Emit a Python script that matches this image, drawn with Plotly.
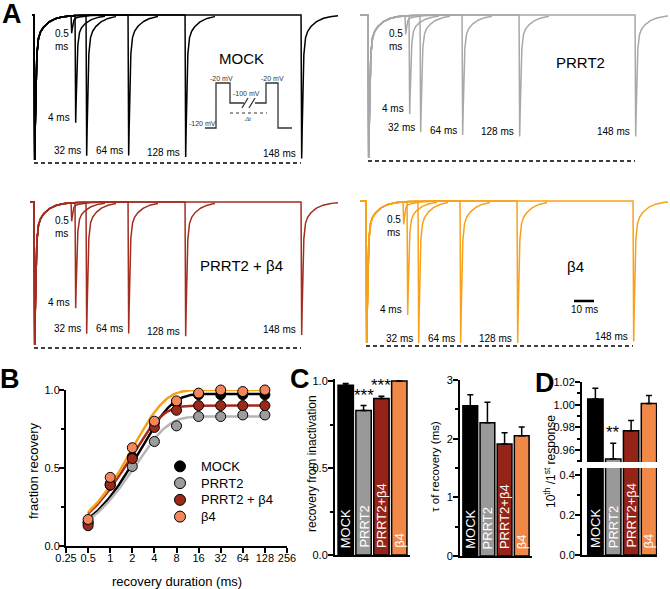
import numpy as np
import plotly.graph_objects as go

W, H = 670, 589
FONT = "Liberation Sans, Arial, sans-serif"

# ---------------- data ----------------
conditions = ["MOCK", "PRRT2", "PRRT2+β4", "β4"]
legend_names = ["MOCK", "PRRT2", "PRRT2 + β4", "β4"]

# Panel A: test-pulse currents (fraction of first response), display position (ms after first pulse)
test_labels = ["0.5<br>ms", "4 ms", "32 ms", "64 ms", "128 ms", "148 ms"]
test_times_ms = [18.5, 20.5, 26.0, 47.0, 75.5, 133.5]
peak_mock = [0.12, 0.74, 0.97, 0.97, 0.98, 0.99]
peak_prrt2 = [0.13, 0.69, 0.82, 0.84, 0.85, 0.85]
peak_prrt2_b4 = [0.13, 0.74, 0.92, 0.92, 0.94, 0.93]
peak_b4 = [0.16, 0.80, 1.00, 1.00, 1.00, 0.99]

# Panel B: fraction recovery
durations = [0.5, 1, 2, 4, 8, 16, 32, 64, 128]
frac_mock = [0.15, 0.39, 0.57, 0.79, 0.92, 0.97, 0.97, 0.97, 0.97]
frac_prrt2 = [0.15, 0.40, 0.51, 0.67, 0.77, 0.83, 0.83, 0.84, 0.84]
frac_prrt2_b4 = [0.13, 0.39, 0.56, 0.76, 0.87, 0.90, 0.90, 0.90, 0.90]
frac_b4 = [0.17, 0.44, 0.63, 0.80, 0.93, 0.98, 1.00, 0.99, 1.00]
x_tick_vals = [0.25, 0.5, 1, 2, 4, 8, 16, 32, 64, 128, 256]
x_tick_text = ["0.25", "0.5", "1", "2", "4", "8", "16", "32", "64", "128", "256"]

# Panel C
recovery_mean = [0.975, 0.83, 0.90, 1.0]
recovery_sem = [0.01, 0.029, 0.012, 0.0]
tau_mean = [2.56, 2.27, 1.91, 2.05]
tau_sem = [0.19, 0.35, 0.19, 0.15]

# Panel D
ratio_mean = [1.005, 0.952, 0.977, 1.001]
ratio_sem = [0.0095, 0.014, 0.009, 0.007]

# significance marks
stars_C = {"PRRT2": "***", "PRRT2+β4": "***"}
stars_D = {"PRRT2": "**"}

trace_colors = ["#000000", "#a8a8a8", "#a32d1e", "#f8a11b"]
curve_colors = ["#000000", "#b5b5b5", "#a52a1e", "#f7a11a"]
point_colors = ["#000000", "#9d9d9d", "#9b2a1b", "#f4875a"]
bar_colors = ["#000000", "#999999", "#952418", "#f08847"]


def PX(x):
    return x / W


def PY(y):
    return 1 - y / H


fig = go.Figure()
annotations = []
shapes = []
layout_axes = {}


def ann(**kw):
    d = dict(showarrow=False, xanchor="center", yanchor="middle")
    d.update(kw)
    annotations.append(d)


def axname(k, letter):
    return f"{letter}axis" if k == 1 else f"{letter}axis{k}"


def ref(k, letter):
    return letter if k == 1 else f"{letter}{k}"


# ---------------- Panel A traces ----------------
def na_shape(tau):
    tau = np.clip(tau, 0, None)
    act = (1 - np.exp(-tau / 0.12)) ** 3
    inact = 0.9 * np.exp(-tau / 0.5) + 0.1 * np.exp(-tau / 5.0)
    return act * inact


WAVE_PEAK = na_shape(np.linspace(0, 5, 20001)).max()


def na_wave(t, t0, amp):
    w = na_shape(t - t0) * (t >= t0)
    return -amp * w / WAVE_PEAK


panelsA = [
    dict(name="MOCK", peaks=peak_mock, sx=32, fx=34, ex=338, by=15, fy=160, lab=(241, 59)),
    dict(name="PRRT2", peaks=peak_prrt2, sx=360, fx=368, ex=668, by=15, fy=158, lab=(580, 62)),
    dict(name="PRRT2 + β4", peaks=peak_prrt2_b4, sx=30, fx=34, ex=338, by=202, fy=345, lab=(241, 265)),
    dict(name="β4", peaks=peak_b4, sx=360, fx=366, ex=668, by=201, fy=343, lab=(575, 267)),
]

for i, p in enumerate(panelsA):
    k = i + 1
    s = p["fy"] - p["by"]
    layout_axes[axname(k, "x")] = dict(
        domain=[PX(p["sx"] - 2), PX(p["ex"] + 2)],
        range=[(p["sx"] - 2 - p["fx"]) / 2, (p["ex"] + 2 - p["fx"]) / 2],
        visible=False, anchor=ref(k, "y"))
    layout_axes[axname(k, "y")] = dict(
        domain=[PY(p["fy"] + 10), PY(p["by"] - 10)],
        range=[-(p["fy"] + 10 - p["by"]) / s, 10 / s],
        visible=False, anchor=ref(k, "x"))
    t_start = (p["sx"] - p["fx"]) / 2
    t_end = (p["ex"] - p["fx"]) / 2
    for j, (tj, amp) in enumerate(zip(test_times_ms, p["peaks"])):
        end_j = t_end if j == len(test_times_ms) - 1 else tj + 15
        t = np.unique(np.concatenate([
            np.arange(t_start, end_j, 0.25), np.arange(0, 4, 0.02),
            np.arange(tj, tj + 4, 0.02), [end_j]]))
        t = t[(t >= t_start) & (t <= end_j)]
        cur = na_wave(t, 0.0, 1.0) + na_wave(t, tj, amp)
        fig.add_trace(go.Scatter(x=t, y=cur, mode="lines",
                                 line=dict(color=trace_colors[i], width=1.5),
                                 xaxis=ref(k, "x"), yaxis=ref(k, "y"),
                                 hoverinfo="skip", showlegend=False))
        # label
        spike_x = p["fx"] + 2 * tj
        bottom = p["by"] + amp * s
        if j == 0:
            ann(x=PX(spike_x - 18), y=PY(p["by"] + 25), xref="paper", yref="paper",
                text=test_labels[j], xanchor="left", align="left", font=dict(size=10))
        else:
            ann(x=PX(spike_x - 3), y=PY(bottom - 5), xref="paper", yref="paper",
                text=test_labels[j], xanchor="right", font=dict(size=10))
    # dashed reference line at first-pulse peak
    shapes.append(dict(type="line", xref=ref(k, "x"), yref=ref(k, "y"),
                       x0=0, x1=test_times_ms[-1], y0=-1 - 3 / s, y1=-1 - 3 / s,
                       line=dict(color="black", width=1.5, dash="4px,3px")))
    ann(x=PX(p["lab"][0]), y=PY(p["lab"][1]), xref="paper", yref="paper",
        text=p["name"], font=dict(size=15))
    if p["name"] == "β4":
        # 10 ms scale bar
        shapes.append(dict(type="line", xref=ref(k, "x"), yref=ref(k, "y"),
                           x0=104, x1=114, y0=-100 / s, y1=-100 / s,
                           line=dict(color="black", width=2.5)))
        ann(x=109, y=-100 / s, xref=ref(k, "x"), yref=ref(k, "y"), yshift=-8,
            text="10 ms", font=dict(size=10))

# ---------------- voltage protocol inset (schematic) ----------------
k = 5
layout_axes[axname(k, "x")] = dict(domain=[PX(200), PX(295)], range=[0, 95], visible=False, anchor="y5")
layout_axes[axname(k, "y")] = dict(domain=[PY(133), PY(70)], range=[-5, 58], visible=False, anchor="x5")
proto_seg1_x = [5, 16, 16, 30, 30, 44]
proto_seg1_y = [0, 0, 45, 45, 25, 25]
proto_seg2_x = [55, 66, 66, 78, 78, 92]
proto_seg2_y = [25, 25, 45, 45, 0, 0]
for xs, ys in [(proto_seg1_x, proto_seg1_y), (proto_seg2_x, proto_seg2_y), ([42, 48], [20, 30]), ([49, 55], [20, 30])]:
    fig.add_trace(go.Scatter(x=xs, y=ys, mode="lines", line=dict(color="#333333", width=1.3),
                             xaxis="x5", yaxis="y5", hoverinfo="skip", showlegend=False))
fig.add_trace(go.Scatter(x=[30, 67], y=[15, 15], mode="lines", line=dict(color="#333333", width=1, dash="dot"),
                         xaxis="x5", yaxis="y5", hoverinfo="skip", showlegend=False))
for tx, ty, tt in [(3, 5, "-120 mV"), (22, 50, "-20 mV"), (72, 50, "-20 mV"), (47, 35, "-100 mV"), (48, 9, "<i>Δt</i>")]:
    ann(x=tx, y=ty, xref="x5", yref="y5", text=tt,
        font=dict(size=7, color="#333333", family="Liberation Serif, serif" if "Δ" in tt else FONT))


# ---------------- common axis style ----------------
def axstyle(**kw):
    base = dict(showline=True, linewidth=2, linecolor="black", ticks="outside", ticklen=5, tickwidth=2,
                tickcolor="black", tickfont=dict(size=11, color="black", family=FONT),
                showgrid=False, zeroline=False)
    base.update(kw)
    return base


MINOR = dict(ticks="outside", ticklen=3, tickwidth=2, tickcolor="black")

# ---------------- Panel B ----------------
layout_axes["xaxis6"] = axstyle(domain=[PX(66), PX(287)], type="log", range=[np.log10(0.25), np.log10(256)],
                                tickvals=x_tick_vals, ticktext=x_tick_text, anchor="y6",
                                ticklabelstandoff=-4)
layout_axes["yaxis6"] = axstyle(domain=[PY(546), PY(390)], range=[0, 1.0], tickvals=[0, 0.5, 1.0],
                                tickformat=".1f", anchor="x6", ticklabelstandoff=-3,
                                minor=dict(dtick=0.25, **MINOR))
fit_A = recovery_mean
fit_tau = tau_mean
t_fit = np.geomspace(0.5, 140, 300)
for i in range(4):
    yfit = fit_A[i] * (1 - np.exp(-t_fit / fit_tau[i]))
    fig.add_trace(go.Scatter(x=t_fit, y=yfit, mode="lines", line=dict(color=curve_colors[i], width=2.5),
                             xaxis="x6", yaxis="y6", cliponaxis=False, hoverinfo="skip", showlegend=False))
for i, series in enumerate([frac_mock, frac_prrt2, frac_prrt2_b4, frac_b4]):
    fig.add_trace(go.Scatter(x=durations, y=series, mode="markers",
                             marker=dict(color=point_colors[i], size=10, line=dict(color="black", width=1)),
                             xaxis="x6", yaxis="y6", cliponaxis=False, showlegend=False))
ann(x=PX(177), y=PY(581), xref="paper", yref="paper", text="recovery duration (ms)", font=dict(size=13))
ann(x=PX(33), y=PY(471), xref="paper", yref="paper", text="fraction recovery", textangle=-90, font=dict(size=13))

# legend for B (own hidden axis, one row per condition)
layout_axes["xaxis11"] = dict(domain=[PX(170), PX(320)], range=[-10, 140], visible=False, anchor="y11")
layout_axes["yaxis11"] = dict(domain=[PY(525), PY(458)], range=[3.5, -0.5], visible=False, anchor="x11")
leg_idx = list(range(len(legend_names)))
fig.add_trace(go.Scatter(x=[0] * len(leg_idx), y=leg_idx, mode="markers",
                         marker=dict(color=point_colors, size=11, line=dict(color="black", width=1)),
                         xaxis="x11", yaxis="y11", cliponaxis=False, showlegend=False, hoverinfo="skip"))
for i, nm in enumerate(legend_names):
    ann(x=19, y=i, xref="x11", yref="y11", text=nm, xanchor="left", font=dict(size=13))


# ---------------- Panel C and D bars ----------------
def add_bars(k, means, sems):
    fig.add_trace(go.Bar(x=conditions, y=means, width=0.86,
                         marker=dict(color=bar_colors, line=dict(color="black", width=1.5)),
                         error_y=dict(type="data", array=sems, arrayminus=[0] * len(sems), symmetric=False,
                                      color="black", thickness=1.5, width=3),
                         xaxis=f"x{k}", yaxis=f"y{k}", showlegend=False, hoverinfo="skip"))


def bar_labels(k):
    for c in conditions:
        ann(x=c, y=0, xref=f"x{k}", yref=f"y{k}", text=c, textangle=-90,
            yanchor="bottom", yshift=5, font=dict(size=13, color="white"))


# C left: recovery
add_bars(7, recovery_mean, recovery_sem)
layout_axes["xaxis7"] = axstyle(domain=[PX(335), PX(410)], range=[-0.6, 3.6], showticklabels=False,
                                ticks="", anchor="y7", type="category")
layout_axes["yaxis7"] = axstyle(domain=[PY(555), PY(555 - 1.01 * 174)], range=[0, 1.01], tickvals=[0, 0.5, 1.0],
                                tickformat=".1f", anchor="x7", ticklabelstandoff=-2,
                                minor=dict(dtick=0.25, **MINOR))
bar_labels(7)
for i, c in enumerate(conditions):
    if c in stars_C:
        ann(x=c, y=recovery_mean[i] + recovery_sem[i], xref="x7", yref="y7",
            text=stars_C[c], yanchor="bottom", yshift=-1, font=dict(size=17))
ann(x=PX(312), y=PY(464), xref="paper", yref="paper", text="recovery from inactivation",
    textangle=-90, font=dict(size=12))

# C right: tau
add_bars(8, tau_mean, tau_sem)
layout_axes["xaxis8"] = axstyle(domain=[PX(460), PX(532)], range=[-0.6, 3.6], showticklabels=False,
                                ticks="", anchor="y8", type="category")
layout_axes["yaxis8"] = axstyle(domain=[PY(556), PY(380)], range=[0, 3], tickvals=[0, 1, 2, 3], anchor="x8",
                                ticklabelstandoff=-2, minor=dict(dtick=0.5, **MINOR))
bar_labels(8)
ann(x=PX(435), y=PY(467), xref="paper", yref="paper", text="τ of recovery (ms)",
    textangle=-90, font=dict(size=11.5))

# D: broken axis (lower x9/y9, upper x10/y10)
add_bars(9, ratio_mean, ratio_sem)
add_bars(10, ratio_mean, ratio_sem)
layout_axes["xaxis9"] = axstyle(domain=[PX(582), PX(657)], range=[-0.75, 3.45], showticklabels=False,
                                ticks="", anchor="y9", type="category")
layout_axes["yaxis9"] = axstyle(domain=[PY(555), PY(468)], range=[0, 0.435], tickvals=[0, 0.2, 0.4],
                                tickformat=".1f", anchor="x9", ticklabelstandoff=-2,
                                minor=dict(dtick=0.1, **MINOR))
layout_axes["xaxis10"] = dict(domain=[PX(582), PX(657)], range=[-0.75, 3.45], visible=False,
                              anchor="y10", type="category")
layout_axes["yaxis10"] = axstyle(domain=[PY(462), PY(382)], range=[0.9494, 1.02],
                                 tickvals=[0.96, 0.98, 1.00, 1.02], tickformat=".2f", anchor="x10",
                                 ticklabelstandoff=-2, minor=dict(dtick=0.01, **MINOR))
bar_labels(9)
for i, c in enumerate(conditions):
    if c in stars_D:
        ann(x=c, y=ratio_mean[i] + ratio_sem[i], xref="x10", yref="y10",
            text=stars_D[c], yanchor="bottom", yshift=-1, font=dict(size=17))
ann(x=PX(550), y=PY(462), xref="paper", yref="paper",
    text="10<sup>th</sup> /1<sup>st</sup> response", textangle=-90, font=dict(size=12))

# ---------------- panel letters ----------------
for letter, (lx, ly) in {"A": (12, 14), "B": (10, 379), "C": (300, 379), "D": (545, 383)}.items():
    ann(x=PX(lx), y=PY(ly), xref="paper", yref="paper", text=f"<b>{letter}</b>", font=dict(size=27))

fig.update_layout(
    width=W, height=H, margin=dict(l=0, r=0, t=0, b=0),
    template="none", paper_bgcolor="white", plot_bgcolor="rgba(0,0,0,0)",
    font=dict(family=FONT, color="black"), showlegend=False,
    annotations=annotations, shapes=shapes, bargap=0.1,
    **layout_axes,
)

fig.write_html("out.html", config={"displayModeBar": False},
               post_script="document.body.style.margin='0px';document.body.style.overflow='hidden';")
